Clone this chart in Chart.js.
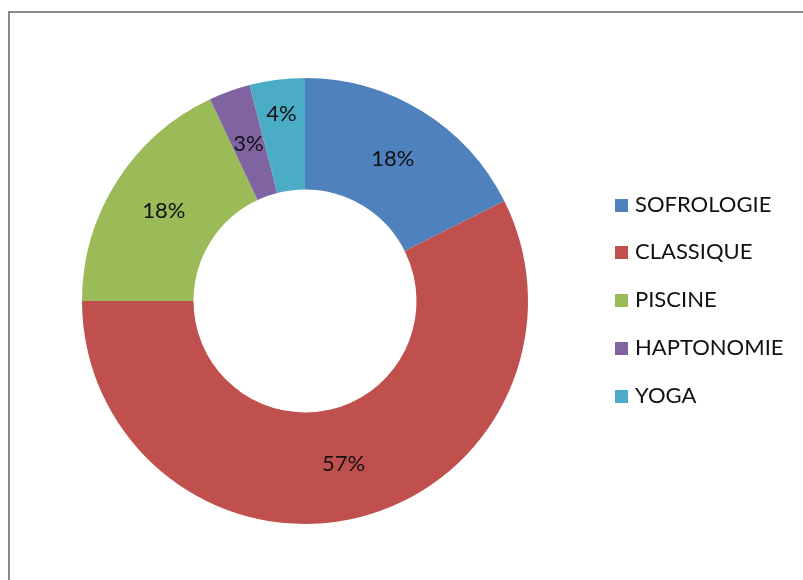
<!DOCTYPE html>
<html>
<head>
<meta charset="utf-8">
<script src="https://cdn.jsdelivr.net/npm/chart.js@4/dist/chart.umd.min.js"></script>
<style>
  html, body { margin: 0; padding: 0; width: 803px; height: 580px; overflow: hidden; background: #fff; }
  #frame { position: absolute; left: 8px; top: 11px; width: 820px; height: 620px; border: 2px solid #8a8a8a; box-sizing: border-box; }
  #wrap { position: absolute; left: 0; top: 0; width: 803px; height: 580px; }
  #legend { position: absolute; left: 615px; top: 180px; font-family: Lato, "Open Sans", sans-serif; font-size: 22px; color: #111; }
  .item { position: absolute; left: 0; height: 26px; line-height: 26px; white-space: nowrap; }
  .sw { display: inline-block; width: 13px; height: 13px; vertical-align: middle; margin-right: 7px; position: relative; top: -1px; }
</style>
</head>
<body>
<div id="frame"></div>
<div id="wrap"><canvas id="c" width="803" height="580"></canvas></div>
<div id="legend"></div>
<script>
const categories = ["SOFROLOGIE", "CLASSIQUE", "PISCINE", "HAPTONOMIE", "YOGA"];
const values = [17.6, 57.4, 18, 3, 4];
const colors = ["#4F81BD", "#C0504D", "#9BBB59", "#8064A2", "#4BACC6"];

const total = values.reduce((a, b) => a + b, 0);

const labelPlugin = {
  id: 'pctLabels',
  afterDatasetsDraw(chart, args, opts) {
    const ctx = chart.ctx;
    const meta = chart.getDatasetMeta(0);
    const shifts = opts.radialShift || {};
    ctx.save();
    ctx.font = '22px Lato, "Open Sans", sans-serif';
    ctx.fillStyle = '#111';
    ctx.textAlign = 'center';
    ctx.textBaseline = 'middle';
    meta.data.forEach((arc, i) => {
      const p = arc.tooltipPosition();
      const s = shifts[i] || 0;
      const ang = (arc.startAngle + arc.endAngle) / 2;
      const x = p.x + Math.cos(ang) * s;
      const y = p.y + Math.sin(ang) * s;
      const pct = Math.round(values[i] / total * 100) + '%';
      ctx.fillText(pct, x, y);
    });
    ctx.restore();
  }
};

new Chart(document.getElementById('c'), {
  type: 'doughnut',
  data: {
    labels: categories,
    datasets: [{ data: values, backgroundColor: colors, borderWidth: 0 }]
  },
  options: {
    responsive: false,
    animation: false,
    cutout: '50%',
    layout: { padding: { left: 82, right: 275, top: 78, bottom: 56 } },
    plugins: {
      legend: { display: false },
      tooltip: { enabled: false },
      pctLabels: { radialShift: { 4: 21 } }
    }
  },
  plugins: [labelPlugin]
});

const lg = document.getElementById('legend');
const centers = [204, 251, 299, 347, 395];
categories.forEach((name, i) => {
  const d = document.createElement('div');
  d.className = 'item';
  d.style.top = (centers[i] - 180 - 13) + 'px';
  d.innerHTML = '<span class="sw" style="background:' + colors[i] + '"></span>' + name;
  lg.appendChild(d);
});
</script>
</body>
</html>
